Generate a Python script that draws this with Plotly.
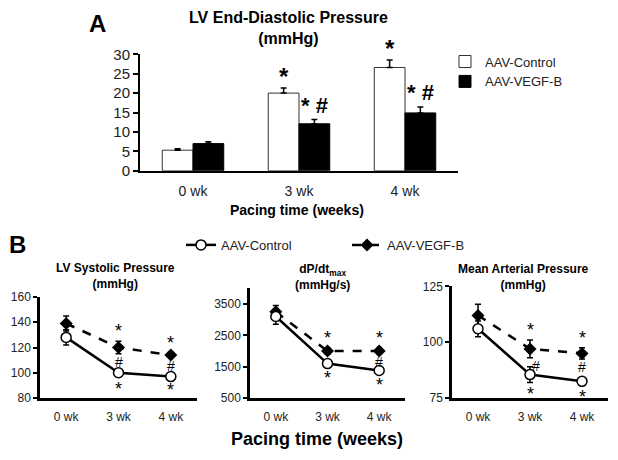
import plotly.graph_objects as go

# ---------------- data ----------------
weeks = ["0 wk", "3 wk", "4 wk"]

# Panel A: LV End-Diastolic Pressure (mmHg)
edp_ctrl = [5.3, 20.0, 26.6]
edp_ctrl_err = [0.4, 1.3, 1.9]
edp_vegf = [7.0, 12.1, 14.9]
edp_vegf_err = [0.5, 1.1, 1.5]
edp_ctrl_sig = ["", "*", "*"]
edp_vegf_sig = ["", "* #", "* #"]

# Panel B1: LV Systolic Pressure (mmHg)
lvsp_ctrl = [128, 100, 97]
lvsp_ctrl_err = [6, 3, 1.5]
lvsp_vegf = [139, 120, 114]
lvsp_vegf_err = [6, 5, 2]

# Panel B2: dP/dt max (mmHg/s)
dpdt_ctrl = [3100, 1600, 1380]
dpdt_ctrl_err = [250, 80, 70]
dpdt_vegf = [3250, 2000, 2000]
dpdt_vegf_err = [200, 100, 90]

# Panel B3: Mean Arterial Pressure (mmHg)
map_ctrl = [106, 85.5, 82.5]
map_ctrl_err = [3.5, 3.5, 1.5]
map_vegf = [112, 97, 95]
map_vegf_err = [5, 4, 2.5]

# significance flags for panel B (per week): star above VEGF, hash below VEGF, star below control
b_star_vegf = [[False, True, True]] * 3
b_hash_vegf = [[False, True, True], [False, False, True], [False, True, True]]
b_star_ctrl = [[False, True, True]] * 3

FONT = "Arial, Liberation Sans, sans-serif"
W, H = 618, 460


def px_x(p):
    return p / W


def px_y(p):
    return 1 - p / H


fig = go.Figure()

# ---------------- Panel A bars ----------------
fig.add_trace(go.Bar(
    x=weeks, y=edp_ctrl, name="AAV-Control",
    marker=dict(color="white", line=dict(color="#333", width=1)),
    error_y=dict(type="data", array=edp_ctrl_err, arrayminus=[0] * 3, symmetric=False,
                 color="black", thickness=1.5, width=3),
    xaxis="x", yaxis="y", legend="legend",
))
fig.add_trace(go.Bar(
    x=weeks, y=edp_vegf, name="AAV-VEGF-B",
    marker=dict(color="black", line=dict(color="black", width=1)),
    error_y=dict(type="data", array=edp_vegf_err, arrayminus=[0] * 3, symmetric=False,
                 color="black", thickness=1.5, width=3),
    xaxis="x", yaxis="y", legend="legend",
))

# ---------------- Panel B lines ----------------
b_sets = [
    (lvsp_ctrl, lvsp_ctrl_err, lvsp_vegf, lvsp_vegf_err),
    (dpdt_ctrl, dpdt_ctrl_err, dpdt_vegf, dpdt_vegf_err),
    (map_ctrl, map_ctrl_err, map_vegf, map_vegf_err),
]
for i, (c, ce, v, ve) in enumerate(b_sets):
    xa = f"x{i + 2}"
    ya = f"y{i + 2}"
    fig.add_trace(go.Scatter(
        x=weeks, y=v, name="AAV-VEGF-B", mode="lines+markers",
        line=dict(color="black", width=2.5, dash="dash"),
        marker=dict(symbol="diamond", size=10, color="black"),
        error_y=dict(type="data", array=ve, color="black", thickness=1.5, width=3),
        xaxis=xa, yaxis=ya, legend="legend2", showlegend=(i == 0), legendrank=2,
    ))
    fig.add_trace(go.Scatter(
        x=weeks, y=c, name="AAV-Control", mode="lines+markers",
        line=dict(color="black", width=2.5),
        marker=dict(symbol="circle", size=10, color="white", line=dict(color="black", width=1.5)),
        error_y=dict(type="data", array=ce, color="black", thickness=1.5, width=3),
        xaxis=xa, yaxis=ya, legend="legend2", showlegend=(i == 0), legendrank=1,
    ))

# ---------------- axes ----------------
common_x = dict(type="category", range=[-0.5, 2.5], showline=True, linecolor="black",
                ticks="", showgrid=False, zeroline=False,
                tickfont=dict(family=FONT, size=12, color="#222"), fixedrange=True)
common_y = dict(showline=True, linecolor="black", ticks="outside", tickcolor="black",
                showgrid=False, zeroline=False, tickfont=dict(family=FONT, size=12, color="#222"))

layout = dict(
    width=W, height=H, margin=dict(l=0, r=0, t=0, b=0),
    plot_bgcolor="white", paper_bgcolor="white",
    font=dict(family=FONT, color="black", size=12),
    barmode="group", bargap=0.42, bargroupgap=0,
    xaxis=dict(common_x, domain=[px_x(140), px_x(458)], anchor="y", linewidth=2,
               tickfont=dict(family=FONT, size=14, color="#222"), ticklabelstandoff=6),
    yaxis=dict(common_y, domain=[px_y(168), px_y(47)], anchor="x", range=[0, 30], dtick=5,
               linewidth=2, ticklen=5, tickwidth=1.5,
               tickfont=dict(family=FONT, size=15, color="#222")),
    xaxis2=dict(common_x, domain=[px_x(40), px_x(197)], anchor="y2", linewidth=2.5, ticklabelstandoff=6),
    yaxis2=dict(common_y, domain=[px_y(404), px_y(299)], anchor="x2", range=[80, 160], dtick=20,
                linewidth=2.5, ticklen=4, tickwidth=2),
    xaxis3=dict(common_x, domain=[px_x(250), px_x(405)], anchor="y3", linewidth=2.5, ticklabelstandoff=6),
    yaxis3=dict(common_y, domain=[px_y(404), px_y(290)], anchor="x3", range=[500, 4000],
                tickvals=[500, 1500, 2500, 3500], linewidth=2.5, ticklen=4, tickwidth=2),
    xaxis4=dict(common_x, domain=[px_x(452), px_x(608)], anchor="y4", linewidth=2.5, ticklabelstandoff=6),
    yaxis4=dict(common_y, domain=[px_y(404), px_y(288)], anchor="x4", range=[75, 125],
                tickvals=[75, 100, 125], linewidth=2.5, ticklen=4, tickwidth=2),
    legend=dict(x=px_x(445), y=px_y(39), xanchor="left", yanchor="top",
                font=dict(family=FONT, size=13, color="#222"), bgcolor="rgba(0,0,0,0)",
                tracegroupgap=0, itemclick=False),
    legend2=dict(orientation="h", x=px_x(181), y=px_y(245), xanchor="left", yanchor="middle",
                 font=dict(family=FONT, size=13, color="#222"), bgcolor="rgba(0,0,0,0)",
                 entrywidth=121, entrywidthmode="pixels", itemclick=False),
    showlegend=True,
)
fig.update_layout(**layout)

ann = []


def txt(x, y, s, size, bold=True, **kw):
    t = f"<b>{s}</b>" if bold else s
    d = dict(x=px_x(x), y=px_y(y), xref="paper", yref="paper", text=t, showarrow=False,
             font=dict(family=FONT, size=size, color="black"), xanchor="center", yanchor="middle")
    d.update(kw)
    ann.append(d)


# panel letters and titles
txt(97, 15, "A", 24)
txt(17, 245, "B", 24)
txt(288, 20, "LV End-Diastolic Pressure<br>(mmHg)", 16)
txt(297, 209, "Pacing time (weeks)", 14)
txt(115, 277, "LV Systolic Pressure<br>(mmHg)", 12)
txt(323, 278, "dP/dt<sub>max</sub><br>(mmHg/s)", 12)
txt(523, 278, "Mean Arterial Pressure<br>(mmHg)", 12)
txt(317, 446, "Pacing time (weeks)", 18)

# significance marks panel A (anchored on data + error)
for j, wk in enumerate(weeks):
    if edp_ctrl_sig[j]:
        ann.append(dict(x=wk, y=edp_ctrl[j] + edp_ctrl_err[j], xref="x", yref="y",
                        text=f"<b>{edp_ctrl_sig[j]}</b>", showarrow=False, xshift=-15, yshift=-4,
                        font=dict(family=FONT, size=24, color="black"), yanchor="bottom"))
    if edp_vegf_sig[j]:
        ann.append(dict(x=wk, y=edp_vegf[j] + edp_vegf_err[j], xref="x", yref="y",
                        text=f"<b>{edp_vegf_sig[j]}</b>", showarrow=False, xshift=15, yshift=0,
                        font=dict(family=FONT, size=22, color="black"), yanchor="bottom"))

# significance marks panel B
for i, (c, ce, v, ve) in enumerate(b_sets):
    xr, yr = f"x{i + 2}", f"y{i + 2}"
    for j, wk in enumerate(weeks):
        if b_star_vegf[i][j]:
            ann.append(dict(x=wk, y=v[j] + ve[j], xref=xr, yref=yr, text="*", showarrow=False,
                            yanchor="bottom", yshift=-2, font=dict(family=FONT, size=18, color="black")))
        if b_hash_vegf[i][j]:
            ann.append(dict(x=wk, y=v[j] - ve[j], xref=xr, yref=yr, text="#", showarrow=False,
                            yanchor="top", yshift=2, xshift=(6 if (i == 2 and j == 1) else 0),
                            font=dict(family=FONT, size=14, color="black")))
        if b_star_ctrl[i][j]:
            ann.append(dict(x=wk, y=c[j] - ce[j], xref=xr, yref=yr, text="*", showarrow=False,
                            yanchor="top", yshift=0, font=dict(family=FONT, size=18, color="black")))

fig.update_layout(annotations=ann)
fig.write_html("out.html", config={"displayModeBar": False},
               post_script="document.body.style.margin='0';")
